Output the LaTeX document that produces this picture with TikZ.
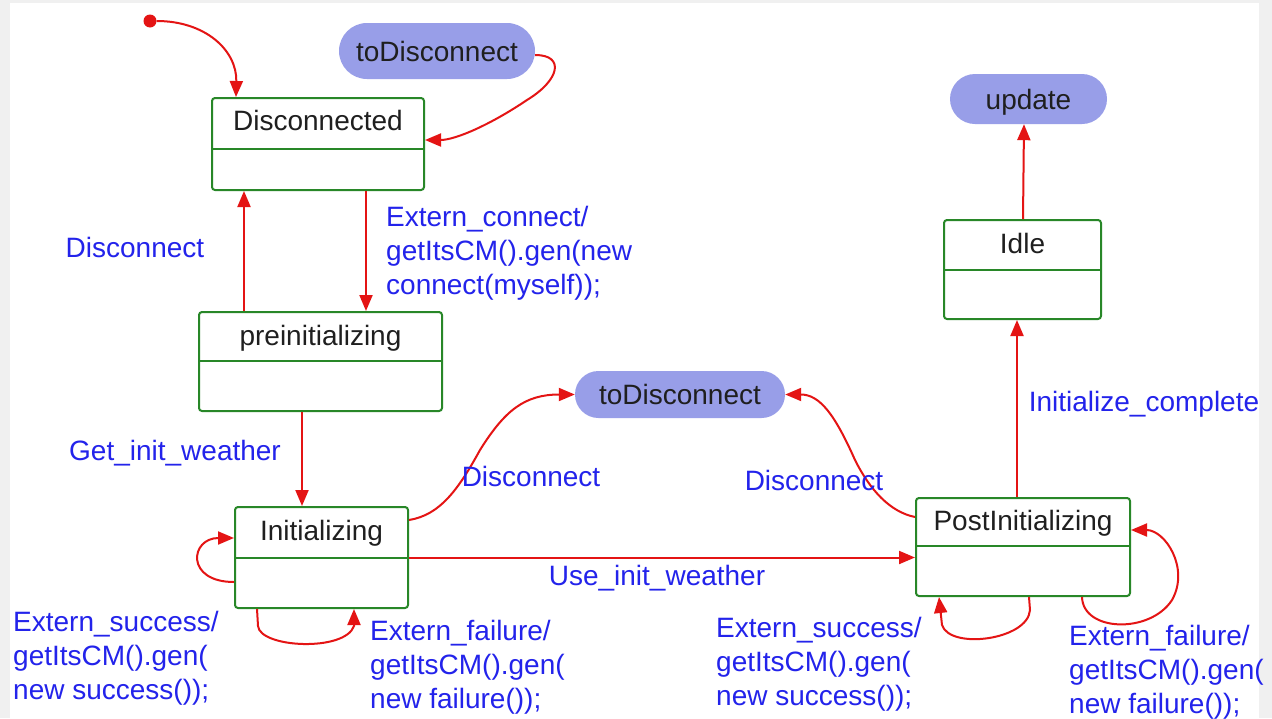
\documentclass[tikz,border=0pt]{standalone}
\usepackage{fontspec}
\setmainfont{Liberation Sans}
\usetikzlibrary{arrows.meta,shapes.misc}
\definecolor{trred}{RGB}{228,20,20}
\definecolor{stgreen}{RGB}{40,135,40}
\definecolor{lblue}{RGB}{35,35,235}
\definecolor{pill}{RGB}{152,158,232}
\definecolor{framegray}{RGB}{240,240,240}
\begin{document}
\begin{tikzpicture}[x=1pt,y=-1pt,
  stbox/.style={draw=stgreen, line width=2pt, rounded corners=3pt, inner sep=0pt, fill=white},
  divider/.style={draw=stgreen, line width=2pt},
  sttitle/.style={font=\fontsize{28}{34}\selectfont, text=black!88, inner sep=0pt, anchor=base},
  pillnode/.style={rounded rectangle, fill=pill, inner sep=0pt, text height=20pt, text depth=0pt,
    font=\fontsize{28}{34}\selectfont, text=black!88},
  tr/.style={draw=trred, line width=2pt, -{Triangle[length=16pt,width=13pt]}},
  lbl/.style={font=\fontsize{28}{34}\selectfont, text=lblue, inner sep=0pt, anchor=base},
  mlbl/.style={font=\fontsize{28}{34}\selectfont, text=lblue, inner sep=0pt, align=left, anchor=west},
]
\useasboundingbox (0,0) rectangle (1272,718);
\fill[framegray] (0,0) rectangle (1272,718);
\fill[white] (10,3) rectangle (1259,718);

% states
\node[stbox, minimum width=212pt, minimum height=92pt] (dis) at (318,144) {};
\draw[divider] (212,149) -- (424,149);
\node[sttitle] (disT) at (318,130.5) {Disconnected};

\node[stbox, minimum width=243pt, minimum height=99pt] (pre) at (320.5,361.5) {};
\draw[divider] (199,361) -- (442,361);
\node[sttitle] (preT) at (320.5,345) {preinitializing};

\node[stbox, minimum width=173pt, minimum height=101pt] (ini) at (321.5,557.5) {};
\draw[divider] (235,558) -- (408,558);
\node[sttitle] (iniT) at (321.5,540) {Initializing};

\node[stbox, minimum width=214pt, minimum height=98pt] (post) at (1023,547) {};
\draw[divider] (916,546) -- (1130,546);
\node[sttitle] (postT) at (1023,530) {PostInitializing};

\node[stbox, minimum width=157pt, minimum height=99pt] (idle) at (1022.5,269.5) {};
\draw[divider] (944,270) -- (1101,270);
\node[sttitle] (idleT) at (1022.5,253) {Idle};

% pills
\node[pillnode, minimum width=196pt, minimum height=56pt] (tod1) at (437,51) {toDisconnect};
\node[pillnode, minimum width=210pt, minimum height=47pt] (tod2) at (680,394.5) {toDisconnect};
\node[pillnode, minimum width=157pt, minimum height=50pt] (upd) at (1028.5,99) {update};

% initial
\node[circle, fill=trred, minimum size=13pt, inner sep=0pt] (init) at (150,21) {};

% transitions
\draw[tr] (init) .. controls (205,21) and (237,50) .. ([xshift=25pt]dis.north west);
\draw[tr] ([yshift=-4pt]tod1.east) .. controls (565,55) and (560,80) .. (527,100)
   .. controls (490,125) and (455,140) .. ([yshift=4pt]dis.east);
\draw[tr] ([xshift=46pt]pre.north west) -- ([xshift=33pt]dis.south west);
\draw[tr] ([xshift=155pt]dis.south west) -- ([xshift=168pt]pre.north west);
\draw[tr] ([xshift=104pt]pre.south west) -- ([xshift=68pt]ini.north west);
\draw[tr] ([yshift=37.5pt]ini.east) .. controls (440,515) and (458,490) .. (480,450)
   .. controls (505,410) and (525,394.5) .. (tod2.west);
\draw[tr] (ini.east) -- (post.west |- ini.east);
\draw[tr] ([yshift=30pt]post.west) .. controls (890,512) and (870,490) .. (855,460)
   .. controls (835,415) and (820,394.5) .. (tod2.east);
\draw[tr] ([xshift=102pt]post.north west) -- ([xshift=74pt]idle.south west);
\draw[tr] ([xshift=80pt]idle.north west) -- ([xshift=-4.5pt]upd.south);

% self loops
\draw[tr] ([yshift=-24.5pt]ini.west) .. controls (185,582) and (190,538) .. ([yshift=19.5pt]ini.west);
\draw[tr] ([xshift=23pt]ini.south west) -- (258,626) .. controls (260,648) and (345,652) .. (354,626)
   -- ([xshift=120pt]ini.south west);
\draw[tr] ([xshift=114pt]post.south west) -- (1030,610) .. controls (1028,640) and (950,650) .. (942,625)
   -- ([xshift=24pt]post.south west);
\draw[tr] ([xshift=167pt]post.south west) .. controls (1083,632) and (1150,634) .. (1172,600)
   .. controls (1190,568) and (1165,530) .. ([yshift=17pt]post.east);

% labels
\node[lbl] (l1) at (135,257) {Disconnect};
\node[mlbl] (l2) at (386,253) {Extern\_connect/\\getItsCM().gen(new\\connect(myself));};
\node[lbl] (l3) at (175,460) {Get\_init\_weather};
\node[lbl] (l4) at (531,486) {Disconnect};
\node[lbl] (l5) at (657,585) {Use\_init\_weather};
\node[lbl] (l6) at (814,490) {Disconnect};
\node[lbl] (l7) at (1144,411) {Initialize\_complete};
\node[mlbl] (l8) at (13,658) {Extern\_success/\\getItsCM().gen(\\new success());};
\node[mlbl] (l9) at (370,667) {Extern\_failure/\\getItsCM().gen(\\new failure());};
\node[mlbl] (l10) at (716,664) {Extern\_success/\\getItsCM().gen(\\new success());};
\node[mlbl] (l11) at (1069,672) {Extern\_failure/\\getItsCM().gen(\\new failure());};
\end{tikzpicture}
\end{document}
